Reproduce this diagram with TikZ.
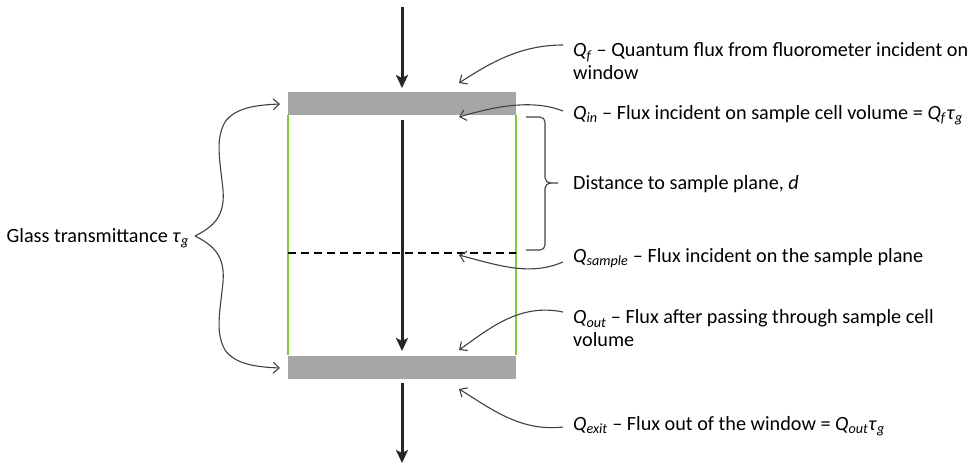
\documentclass[tikz,border=0pt]{standalone}
\usepackage{fontspec}
\setmainfont{Carlito}
\usetikzlibrary{arrows.meta}
\definecolor{wincol}{RGB}{166,166,166}
\definecolor{wallcol}{RGB}{130,200,60}
\definecolor{anncol}{RGB}{64,64,64}
\newcommand{\Qsub}[1]{\textit{Q}\textsubscript{\textit{#1}}}
\begin{document}
\begin{tikzpicture}[x=1pt,y=-1pt,
  lbl/.style={anchor=west, font=\fontsize{20.2}{23}\selectfont, inner sep=0pt, align=left},
  window/.style={fill=wincol, draw=none, minimum width=228pt, minimum height=23pt, inner sep=0pt},
  wall/.style={draw=wallcol, line width=2pt},
  beam/.style={line width=3pt, draw=black!85, -{Stealth[length=13pt,width=12pt,inset=3pt]}},
  ann/.style={draw=anncol, line width=1.1pt, -{Straight Barb[length=6pt,width=11pt]}},
  bracket/.style={draw=anncol, line width=1.1pt}]
\useasboundingbox (0,0) rectangle (978,464);

% windows
\node[window] (topwin) at (402,103.5) {};
\node[window] (botwin) at (402,367) {};
% walls
\draw[wall] (topwin.south west) -- (botwin.north west);
\draw[wall] (topwin.south east) -- (botwin.north east);
% sample plane
\coordinate (spl) at (288,253);
\coordinate (spr) at (516,253);
\draw[line width=1.8pt, dash pattern=on 8pt off 5pt] (spl) -- (spr);

% beams
\coordinate (b1s) at (402,7);   \coordinate (b1e) at (402,88);
\coordinate (b2s) at (402,120); \coordinate (b2e) at (402,351);
\coordinate (b3s) at (402,383); \coordinate (b3e) at (402,463);
\draw[beam] (b1s) -- (b1e);
\draw[beam] (b2s) -- (b2e);
\draw[beam] (b3s) -- (b3e);

% labels
\node[lbl] (qf) at (573,61.5) {\Qsub{f} -- Quantum flux from fluorometer incident on\\window};
\node[lbl] (qin) at (573,115) {\Qsub{in} -- Flux incident on sample cell volume = \textit{Q}\textsubscript{\textit{f}}\textit{τ}\textsubscript{\textit{g}}};
\node[lbl] (dist) at (573,184) {Distance to sample plane, \textit{d}};
\node[lbl] (qs) at (573,258) {\Qsub{sample} -- Flux incident on the sample plane};
\node[lbl] (qout) at (573,328.5) {\Qsub{out} -- Flux after passing through sample cell\\volume};
\node[lbl] (qex) at (573,426) {\Qsub{exit} -- Flux out of the window = \textit{Q}\textsubscript{\textit{out}}\textit{τ}\textsubscript{\textit{g}}};
\node[lbl, anchor=east] (glass) at (189,238) {Glass transmittance \textit{τ}\textsubscript{\textit{g}}};

% annotation arrows
\coordinate (af) at (563,45);   \coordinate (tf) at (459,83);
\coordinate (ai) at (563,111);  \coordinate (ti) at (459,117);
\coordinate (as) at (563,262);  \coordinate (ts) at (459,255);
\coordinate (ao) at (563,312);  \coordinate (to) at (459,350);
\coordinate (ae) at (563,427);  \coordinate (te) at (459,389);
\draw[ann] (af) .. controls (520,45) and (490,63) .. (tf);
\draw[ann] (ai) .. controls (530,98) and (490,108) .. (ti);
\draw[ann] (as) .. controls (530,276) and (500,266) .. (ts);
\draw[ann] (ao) .. controls (520,303) and (490,328) .. (to);
\draw[ann] (ae) .. controls (520,432) and (490,408) .. (te);

% distance bracket
\coordinate (dbt) at (526,117);
\coordinate (dbb) at (526,250);
\coordinate (dbm) at (558,183);
\draw[bracket] (dbt) -- (540,117) to[out=0,in=90] (545,122) -- (545,178)
  to[out=-90,in=180] (551,183) -- (dbm);
\draw[bracket] (551,183) to[out=180,in=90] (545,188) -- (545,245)
  to[out=-90,in=0] (540,250) -- (dbb);

% glass brace
\coordinate (gtip) at (195,236);
\coordinate (gtop) at (280,104);
\coordinate (gbot) at (280,368);
\draw[ann] (gtip) .. controls (215,226) and (225,215) .. (223,190)
  .. controls (220,160) and (215,140) .. (225,122)
  .. controls (235,108) and (255,105) .. (gtop);
\draw[ann] (gtip) .. controls (215,246) and (225,257) .. (223,282)
  .. controls (220,312) and (215,332) .. (225,350)
  .. controls (235,364) and (255,367) .. (gbot);
\end{tikzpicture}
\end{document}
